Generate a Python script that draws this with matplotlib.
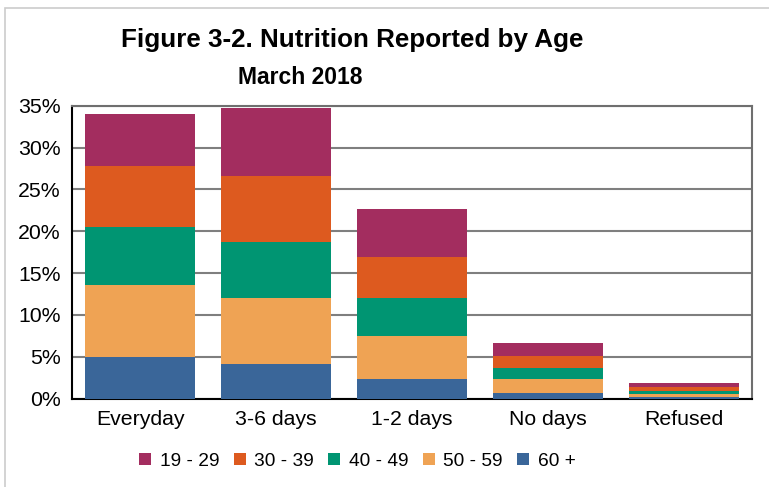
import matplotlib.pyplot as plt
from matplotlib.patches import Rectangle
from matplotlib.ticker import FuncFormatter

plt.rcParams['font.family'] = ['Liberation Sans', 'DejaVu Sans']

categories = ['Everyday', '3-6 days', '1-2 days', 'No days', 'Refused']
groups = ['19 - 29', '30 - 39', '40 - 49', '50 - 59', '60 +']
# percent of respondents, one list per age group (bottom of stack is 60 +)
age_60 = [4.95, 4.1, 2.3, 0.65, 0.2]
age_50 = [8.6, 7.9, 5.15, 1.65, 0.35]
age_40 = [6.95, 6.7, 4.55, 1.3, 0.4]
age_30 = [7.3, 7.9, 4.9, 1.45, 0.45]
age_19 = [6.2, 8.1, 5.7, 1.55, 0.5]

colors = {'60 +': '#3A6699', '50 - 59': '#EFA354', '40 - 49': '#009572',
          '30 - 39': '#DD5A1F', '19 - 29': '#A32D5F'}
stack = [('60 +', age_60), ('50 - 59', age_50), ('40 - 49', age_40),
         ('30 - 39', age_30), ('19 - 29', age_19)]

fig = plt.figure(figsize=(7.69, 4.87), dpi=100)
ax = fig.add_axes([72/769, 1-398.5/487, 680/769, 292.8/487])

x = list(range(len(categories)))
bottom = [0]*len(categories)
handles = {}
for name, vals in stack:
    b = ax.bar(x, vals, bottom=bottom, width=0.816, color=colors[name], zorder=3, linewidth=0)
    handles[name] = b
    bottom = [bottom[i] + vals[i] for i in range(len(vals))]

ax.set_xlim(-0.5, 4.5)
ax.set_ylim(0, 35)
ax.set_yticks(range(0, 36, 5))
ax.yaxis.set_major_formatter(FuncFormatter(lambda v, p: '%d%%' % v))
ax.set_xticks(x)
ax.set_xticklabels(categories)
ax.tick_params(axis='both', length=0, labelsize=15.3)
ax.tick_params(axis='x', pad=8)
ax.tick_params(axis='y', pad=8)
ax.grid(axis='y', color='#7f7f7f', linewidth=1.5, zorder=0)
for s in ['top', 'right']:
    ax.spines[s].set_color('#6f6f6f')
    ax.spines[s].set_linewidth(1.5)
for s in ['left', 'bottom']:
    ax.spines[s].set_color('black')
    ax.spines[s].set_linewidth(1.5)

fig.text(352/769, 1-40/487, 'Figure 3-2. Nutrition Reported by Age', ha='center', va='center',
         fontsize=18.7, fontweight='bold')
fig.text(300/769, 1-78/487, 'March 2018', ha='center', va='center',
         fontsize=16.5, fontweight='bold')

fig.legend([handles[g] for g in groups], groups, loc='center', bbox_to_anchor=(357.5/769, 1-461/487),
           ncol=5, frameon=False, fontsize=13.8, handlelength=0.62, handleheight=0.62,
           handletextpad=0.45, columnspacing=0.75)

fig.patches.append(Rectangle((5/769, -0.01), 1.0, 1-8/487+0.01, transform=fig.transFigure,
                             fill=False, edgecolor='#cccccc', linewidth=1.2))

fig.savefig('out.png', dpi=100)
